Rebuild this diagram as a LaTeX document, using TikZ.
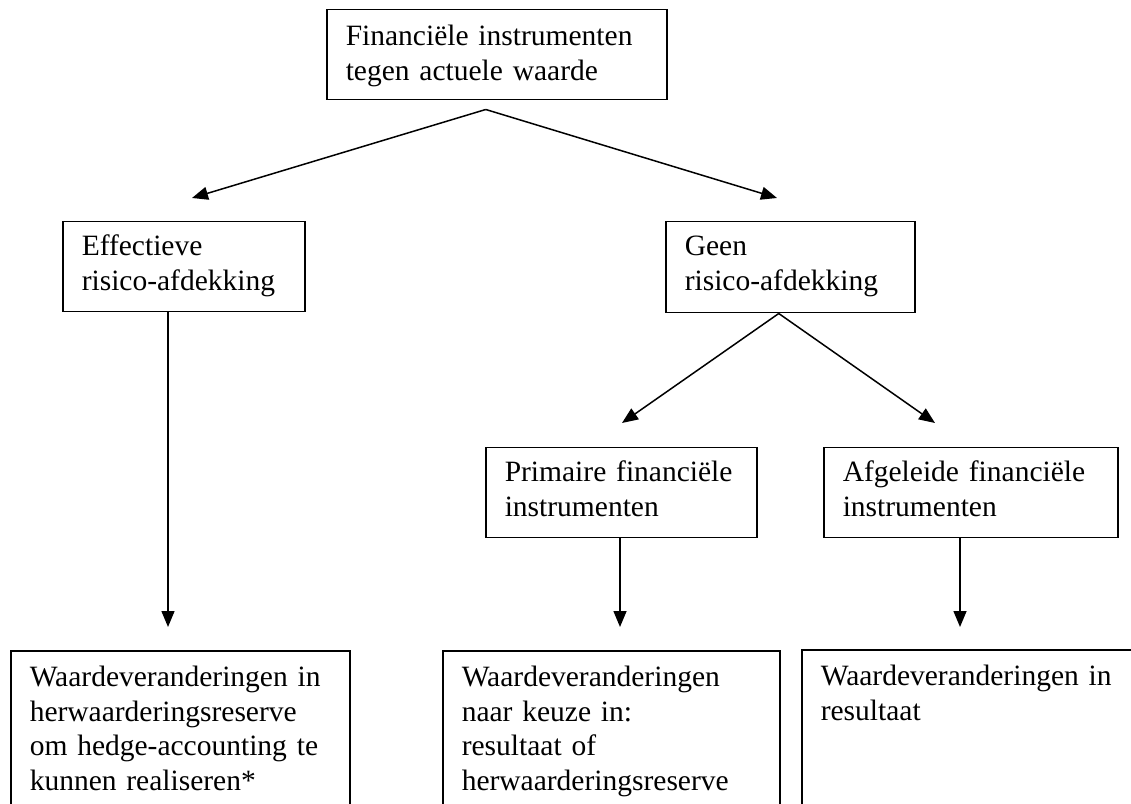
\documentclass[tikz,border=0pt]{standalone}
\usepackage{fontspec}
\setmainfont{Liberation Serif}
\usepackage{tikz}
\usetikzlibrary{positioning, arrows.meta}
\hyphenpenalty=10000
\exhyphenpenalty=10000
\hfuzz=100pt

\begin{document}
\begin{tikzpicture}[x=1pt, y=1pt]
\tikzstyle{block}=[draw, rectangle, line width=1.5pt, anchor=north west, align=left, inner xsep=19pt, inner ysep=0pt, text height=34pt, font=\fontsize{29.5}{34.5}\selectfont]
\tikzstyle{arr}=[line width=1.5pt, -{Triangle[length=16pt, width=13pt]}]

\useasboundingbox (0,0) rectangle (1131,803);

\node[block, text width=302pt, text height=36pt, text depth=54pt](fin) at (326,794){Financiële~instrumenten\\tegen~actuele~waarde};

\node[block, text width=204pt, text depth=56pt](eff) at (62,582){Effectieve\\risico-afdekking};
\node[block, text width=211pt, text depth=57pt](geen) at (665,582){Geen\\risico-afdekking};

\node[block, text width=233pt, text depth=56pt](prim) at (485,356){Primaire~financiële\\instrumenten};
\node[block, text width=256pt, text depth=56pt](afg) at (823,356){Afgeleide~financiële\\instrumenten};

\node[block, text width=301pt, text height=36pt, text depth=170pt](chg1) at (10,153){Waardeveranderingen~in\\herwaarderingsreserve\\om~hedge-accounting~te\\kunnen~realiseren*};
\node[block, text width=299pt, text height=36pt, text depth=170pt](chg2) at (442,153){Waardeveranderingen\\naar~keuze~in:\\resultaat~of\\herwaarderingsreserve};
\node[block, text width=362pt, text height=36pt, text depth=170pt](chg3) at (801,154){Waardeveranderingen~in\\resultaat};

\coordinate (split) at ([xshift=-11pt, yshift=-9pt]fin.south);
\coordinate (gsplit) at ([xshift=-11.5pt]geen.south);
\coordinate (tEff) at (192,605);
\coordinate (tGeen) at (777,605);
\coordinate (tPrim) at (622,380);
\coordinate (tAfg) at (935,380);
\coordinate (tChg1) at (168,176);
\coordinate (tChg2) at (620,176);
\coordinate (tChg3) at (960,176);

\draw[arr](split) -- (tEff);
\draw[arr](split) -- (tGeen);
\draw[arr](eff.south -| tChg1) -- (tChg1);

\draw[arr](gsplit) -- (tPrim);
\draw[arr](gsplit) -- (tAfg);
\draw[arr](prim.south -| tChg2) -- (tChg2);
\draw[arr](afg.south -| tChg3) -- (tChg3);

\end{tikzpicture}
\end{document}
